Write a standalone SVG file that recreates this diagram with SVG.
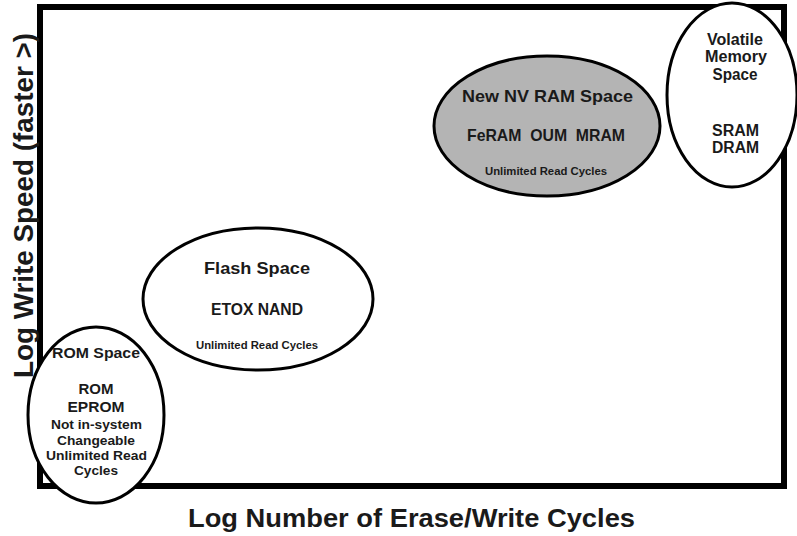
<svg xmlns="http://www.w3.org/2000/svg" width="797" height="536" viewBox="0 0 797 536">
<style>
.t{font-family:"Liberation Sans",Arial,sans-serif;font-weight:bold;fill:#1a1a1a;text-anchor:middle}
.e{stroke:#000;stroke-width:3;fill:#fff}
.g{fill:#b4b4b4}
</style>
<rect width="797" height="536" fill="#fff"/>
<g id="frame">
<rect x="40" y="7" width="744" height="479" fill="none" stroke="#000" stroke-width="6"/>
</g>
<g id="axes">
<text class="t" x="411.5" y="527" font-size="26" textLength="447" lengthAdjust="spacingAndGlyphs">Log Number of Erase/Write Cycles</text>
<text class="t" transform="translate(33,205.5) rotate(-90)" font-size="27" textLength="345" lengthAdjust="spacingAndGlyphs">Log Write Speed (faster &gt;)</text>
</g>
<g id="connectors"></g>
<g id="rom">
<ellipse class="e" cx="96" cy="415" rx="68" ry="88"/>
<text class="t" x="96" y="358" font-size="14.5" textLength="88" lengthAdjust="spacingAndGlyphs">ROM Space</text>
<text class="t" x="96" y="394" font-size="15.5" textLength="35" lengthAdjust="spacingAndGlyphs">ROM</text>
<text class="t" x="96" y="412" font-size="15.5" textLength="57" lengthAdjust="spacingAndGlyphs">EPROM</text>
<text class="t" x="96.5" y="429" font-size="13" textLength="91" lengthAdjust="spacingAndGlyphs">Not in-system</text>
<text class="t" x="96" y="444.5" font-size="13" textLength="78" lengthAdjust="spacingAndGlyphs">Changeable</text>
<text class="t" x="96.5" y="460" font-size="13" textLength="101" lengthAdjust="spacingAndGlyphs">Unlimited Read</text>
<text class="t" x="96" y="475" font-size="13" textLength="44" lengthAdjust="spacingAndGlyphs">Cycles</text>
</g>
<g id="flash">
<ellipse class="e" cx="258" cy="299" rx="115" ry="71"/>
<text class="t" x="257" y="274" font-size="17" textLength="106" lengthAdjust="spacingAndGlyphs">Flash Space</text>
<text class="t" x="257" y="315" font-size="16" textLength="92" lengthAdjust="spacingAndGlyphs">ETOX NAND</text>
<text class="t" x="257" y="349" font-size="11.5" textLength="122" lengthAdjust="spacingAndGlyphs">Unlimited Read Cycles</text>
</g>
<g id="nvram">
<ellipse class="e g" cx="547" cy="126" rx="113" ry="70"/>
<text class="t" x="547.5" y="102" font-size="17" textLength="171" lengthAdjust="spacingAndGlyphs">New NV RAM Space</text>
<text class="t" x="546" y="141" font-size="16.5" textLength="158" lengthAdjust="spacingAndGlyphs" xml:space="preserve">FeRAM  OUM  MRAM</text>
<text class="t" x="546" y="175" font-size="11.5" textLength="122" lengthAdjust="spacingAndGlyphs">Unlimited Read Cycles</text>
</g>
<g id="volatile">
<ellipse class="e" cx="732" cy="95" rx="65" ry="92"/>
<text class="t" x="735" y="45" font-size="16" textLength="56" lengthAdjust="spacingAndGlyphs">Volatile</text>
<text class="t" x="736" y="62" font-size="16" textLength="62" lengthAdjust="spacingAndGlyphs">Memory</text>
<text class="t" x="735" y="80" font-size="16" textLength="45" lengthAdjust="spacingAndGlyphs">Space</text>
<text class="t" x="735.5" y="136" font-size="16" textLength="47" lengthAdjust="spacingAndGlyphs">SRAM</text>
<text class="t" x="735.5" y="153" font-size="16" textLength="47" lengthAdjust="spacingAndGlyphs">DRAM</text>
</g>
</svg>
